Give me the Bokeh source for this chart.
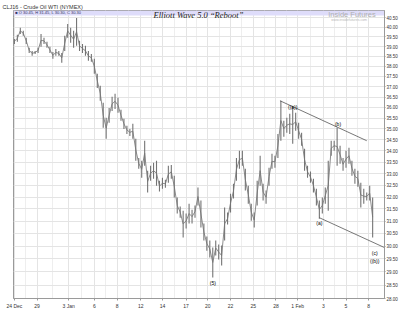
from bokeh.plotting import figure
from bokeh.models import Range1d, FixedTicker, PrintfTickFormatter, BoxAnnotation, Label, ColumnDataSource
from bokeh.core.properties import value
from bokeh.embed import file_html
from bokeh.resources import INLINE

# ---- data (bar highs / lows, USD) ----
highs = [39.40, 39.61, 39.98, 39.82, 39.46, 38.94, 38.78, 38.78, 38.94, 39.66,
         39.46, 39.25, 38.99, 38.73, 38.88, 38.78, 38.68, 39.56, 40.18, 39.98,
         39.82, 40.50, 39.30, 39.14, 39.04, 38.78, 38.63, 38.38, 37.63, 37.04,
         36.22, 35.52, 35.98, 36.51, 36.66, 36.46, 35.89, 35.47, 35.14, 35.00,
         35.24, 34.55, 33.69, 33.56, 34.46, 33.13, 33.34, 33.47, 33.56, 32.69,
         32.82, 32.73, 33.34, 33.38, 32.91, 31.98, 31.60, 31.43, 31.31, 31.72,
         31.47, 31.64, 32.40, 31.85, 30.90, 30.38, 30.22, 29.94, 30.22, 30.06,
         30.02, 31.56, 31.35, 32.14, 32.56, 33.69, 34.01, 34.01, 33.21, 32.48,
         31.72, 31.35, 32.69, 33.78, 32.56, 32.27, 33.26, 33.87, 33.78, 34.77,
         36.32, 35.38, 35.52, 35.70, 36.08, 35.75, 35.28, 34.82, 34.10, 33.34,
         33.09, 32.78, 32.35, 31.85, 31.98, 32.40, 33.56, 34.46, 34.46, 35.05,
         34.23, 33.69, 34.01, 34.14, 33.56, 33.21, 33.13, 32.61, 32.35, 32.19,
         32.48, 31.98]
lows = [39.14, 39.25, 39.66, 39.56, 39.14, 38.68, 38.53, 38.63, 38.68, 38.99,
        39.14, 38.94, 38.68, 38.38, 38.53, 38.53, 38.18, 38.78, 39.46, 39.20,
        38.94, 39.04, 38.78, 38.68, 38.53, 38.28, 38.23, 37.63, 36.94, 36.32,
        35.05, 34.55, 35.28, 35.84, 35.93, 35.75, 35.38, 35.00, 34.77, 34.68,
        34.55, 33.56, 33.21, 32.82, 33.34, 32.19, 32.69, 32.78, 32.48, 32.23,
        32.35, 32.39, 32.61, 32.78, 31.98, 31.31, 31.14, 30.34, 30.70, 30.90,
        30.90, 31.14, 31.64, 30.74, 30.22, 29.82, 29.55, 28.78, 29.63, 29.47,
        29.24, 30.22, 30.86, 31.35, 31.94, 32.69, 33.21, 33.34, 32.27, 31.72,
        31.02, 30.74, 31.64, 32.48, 31.85, 31.72, 32.48, 33.21, 33.26, 33.69,
        34.46, 34.64, 34.82, 34.77, 34.32, 34.91, 34.55, 34.23, 33.13, 32.82,
        32.61, 32.19, 31.64, 31.10, 31.31, 31.72, 31.43, 33.78, 34.01, 33.34,
        33.43, 33.13, 33.26, 33.43, 32.91, 32.56, 32.44, 31.56, 31.72, 31.85,
        31.85, 30.34]
bar_idx = list(range(len(highs)))

date_tick_pos = [0, 7.67, 18.33, 27, 34.67, 42.67, 50, 58, 65.33, 73, 80.67,
                 88.33, 95.67, 104.33, 112, 119.67]
date_tick_labels = ["24 Dec", "29", "3 Jan", "6", "8", "12", "14", "17", "20",
                    "22", "25", "28", "1 Feb", "3", "5", "8"]
price_ticks = [28.0, 28.5, 29.0, 29.5, 30.0, 30.5, 31.0, 31.5, 32.0, 32.5,
               33.0, 33.5, 34.0, 34.5, 35.0, 35.5, 36.0, 36.5, 37.0, 37.5,
               38.0, 38.5, 39.0, 39.5, 40.0, 40.5]

upper_line_x = [89.7, 119.0]
upper_line_y = [36.32, 34.46]
lower_line_x = [103.0, 125.0]
lower_line_y = [31.14, 29.94]

wave_text = ["((a))", "(b)", "(a)", "(5)", "(c)", "((b))"]
wave_x = [94.0, 109.3, 103.0, 67.0, 121.7, 121.7]
wave_y = [36.03, 35.24, 30.94, 28.59, 29.74, 29.43]

last_price = 30.30

# ---- figure ----
p = figure(width=400, height=313, x_range=Range1d(-0.3, 125),
           y_range=Range1d(28.0, 40.9), y_axis_type="log",
           y_axis_location="right", output_backend="svg",
           toolbar_location=None, title="CLJ16 - Crude Oil WTI (NYMEX)")
p.min_border_left = 13
p.min_border_right = 10
p.min_border_top = 0
p.min_border_bottom = 15
p.background_fill_color = "white"
p.border_fill_color = "white"
p.outline_line_color = "#9a9a9a"

p.title.text_font = "Liberation Sans"
p.title.text_font_size = "5.5px"
p.title.text_font_style = "normal"
p.title.text_color = "#333333"
p.title.offset = -11
p.title.standoff = 2

# x axis
xa = p.xaxis[0]
minor = [(a + b) / 2 for a, b in zip(date_tick_pos[:-1], date_tick_pos[1:])]
xa.ticker = FixedTicker(ticks=date_tick_pos, minor_ticks=minor)
xa.major_label_overrides = {t: l for t, l in zip(date_tick_pos, date_tick_labels)}
xa.major_label_text_font = "Liberation Sans"
xa.major_label_text_font_size = "5px"
xa.major_label_text_color = "#333333"
xa.major_label_standoff = 2
xa.major_tick_out = 2
xa.major_tick_in = 0
xa.minor_tick_out = 0
xa.minor_tick_in = 0
xa.axis_line_color = "#9a9a9a"
xa.major_tick_line_color = "#9a9a9a"

# y axis
ya = p.yaxis[0]
ya.ticker = FixedTicker(ticks=price_ticks)
ya.formatter = PrintfTickFormatter(format="%.2f")
ya.major_label_text_font = "Liberation Sans"
ya.major_label_text_font_size = "4.5px"
ya.major_label_text_color = "#333333"
ya.major_label_standoff = 1
ya.major_tick_out = 1
ya.major_tick_in = 0
ya.minor_tick_out = 0
ya.minor_tick_in = 0
ya.axis_line_color = "#9a9a9a"
ya.major_tick_line_color = "#9a9a9a"

p.xgrid.grid_line_color = "#e4e4e4"
p.xgrid.minor_grid_line_color = "#eeeeee"
p.ygrid.grid_line_color = "#e4e4e4"

# header strip inside the plot
p.add_layout(BoxAnnotation(bottom=40.63, fill_color="#dedcfa", fill_alpha=1.0,
                           line_color=None, level="underlay"))

mids = [(h + l) / 2 for h, l in zip(highs, lows)]
src = ColumnDataSource(dict(x=bar_idx, high=highs, low=lows, mid=mids))
p.line(x="x", y="mid", source=src, line_color="#8c8c8c", line_width=1.0)
p.segment(x0="x", y0="low", x1="x", y1="high", source=src,
          line_color="#747474", line_width=1.1)

p.line(upper_line_x, upper_line_y, line_color="#555555", line_width=0.8)
p.line(lower_line_x, lower_line_y, line_color="#555555", line_width=0.8)

p.text(x=wave_x, y=wave_y, text=wave_text, text_font=value("Liberation Sans"),
       text_font_size="5px", text_color="black", text_align="center",
       text_baseline="middle")

p.add_layout(Label(x=0.3, y=40.77, text="\u25a0 O 30.45, H 31.45, L 30.30, C 30.30",
                   text_font="Liberation Sans", text_font_size="4px",
                   text_color="#333366", text_baseline="middle"))
p.add_layout(Label(x=47, y=40.64, text="Elliott Wave 5.0 \u201cReboot\u201d",
                   text_font="Liberation Serif", text_font_style="italic",
                   text_font_size="8.5px", text_color="#222222",
                   text_baseline="middle"))
p.add_layout(Label(x=106, y=40.70, text="Inside Futures",
                   text_font="Liberation Sans", text_font_size="7.5px",
                   text_color="#b0b0b0", text_baseline="middle"))
p.add_layout(Label(x=107, y=40.38, text="www.insidefutures.com",
                   text_font="Liberation Sans", text_font_size="3.5px",
                   text_color="#b8b8b8", text_baseline="middle"))
p.add_layout(Label(x=125, y=last_price, text="%.2f" % last_price, x_offset=1,
                   text_font="Liberation Sans", text_font_size="4.5px",
                   text_color="white", background_fill_color="#333333",
                   text_baseline="middle"))

open("out.html", "w").write(file_html(p, INLINE))
